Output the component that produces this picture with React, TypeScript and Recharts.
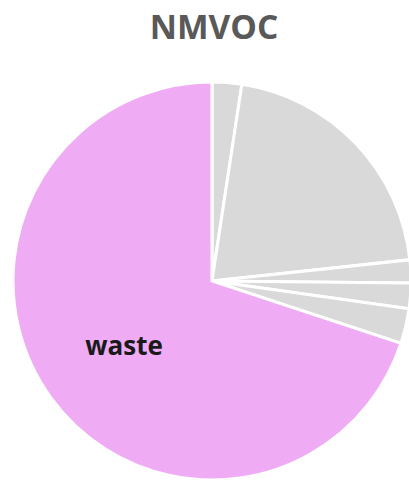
import React from "react";
import { PieChart, Pie, Cell } from "recharts";

const sectors = ["other 1", "other 2", "other 3", "other 4", "other 5", "waste"];
const shares = [2.4, 20.9, 1.86, 2.06, 2.85, 69.93];
const sliceColors = ["#D9D9D9", "#D9D9D9", "#D9D9D9", "#D9D9D9", "#D9D9D9", "#EFACF5"];
const labelled = ["waste"];

const data = sectors.map((name, i) => ({ name, value: shares[i] }));

const RADIAN = Math.PI / 180;

const renderLabel = (props: any) => {
	const { cx, cy, midAngle, outerRadius, name } = props;
	if (!labelled.includes(name)) return null;
	const r = outerRadius * 0.545;
	const x = cx + r * Math.cos(-midAngle * RADIAN);
	const y = cy + r * Math.sin(-midAngle * RADIAN);
	return (
		<text
			x={x}
			y={y}
			textAnchor="middle"
			dominantBaseline="central"
			fill="#1a1a1a"
			fontFamily="'Open Sans', sans-serif"
			fontWeight={700}
			fontSize={26}
		>
			{name}
		</text>
	);
};

const App = () => {
	return (
		<div style={{ position: "absolute", left: 0, top: 0, width: 409, height: 482 }}>
			<div
				style={{
					position: "absolute",
					left: 0,
					width: 428,
					top: 3,
					textAlign: "center",
					fontFamily: "'Open Sans', sans-serif",
					fontWeight: 700,
					fontSize: 33.5,
					color: "#595959",
				}}
			>
				NMVOC
			</div>
			<PieChart width={409} height={482} margin={{ top: 0, right: 0, bottom: 0, left: 0 }}>
				<Pie
					data={data}
					dataKey="value"
					nameKey="name"
					cx={212}
					cy={281}
					outerRadius={199}
					startAngle={90}
					endAngle={-270}
					stroke="#ffffff"
					strokeWidth={3}
					label={renderLabel}
					labelLine={false}
					isAnimationActive={false}
				>
					{data.map((d, i) => (
						<Cell key={d.name} fill={sliceColors[i]} />
					))}
				</Pie>
			</PieChart>
		</div>
	);
};

export default App;
